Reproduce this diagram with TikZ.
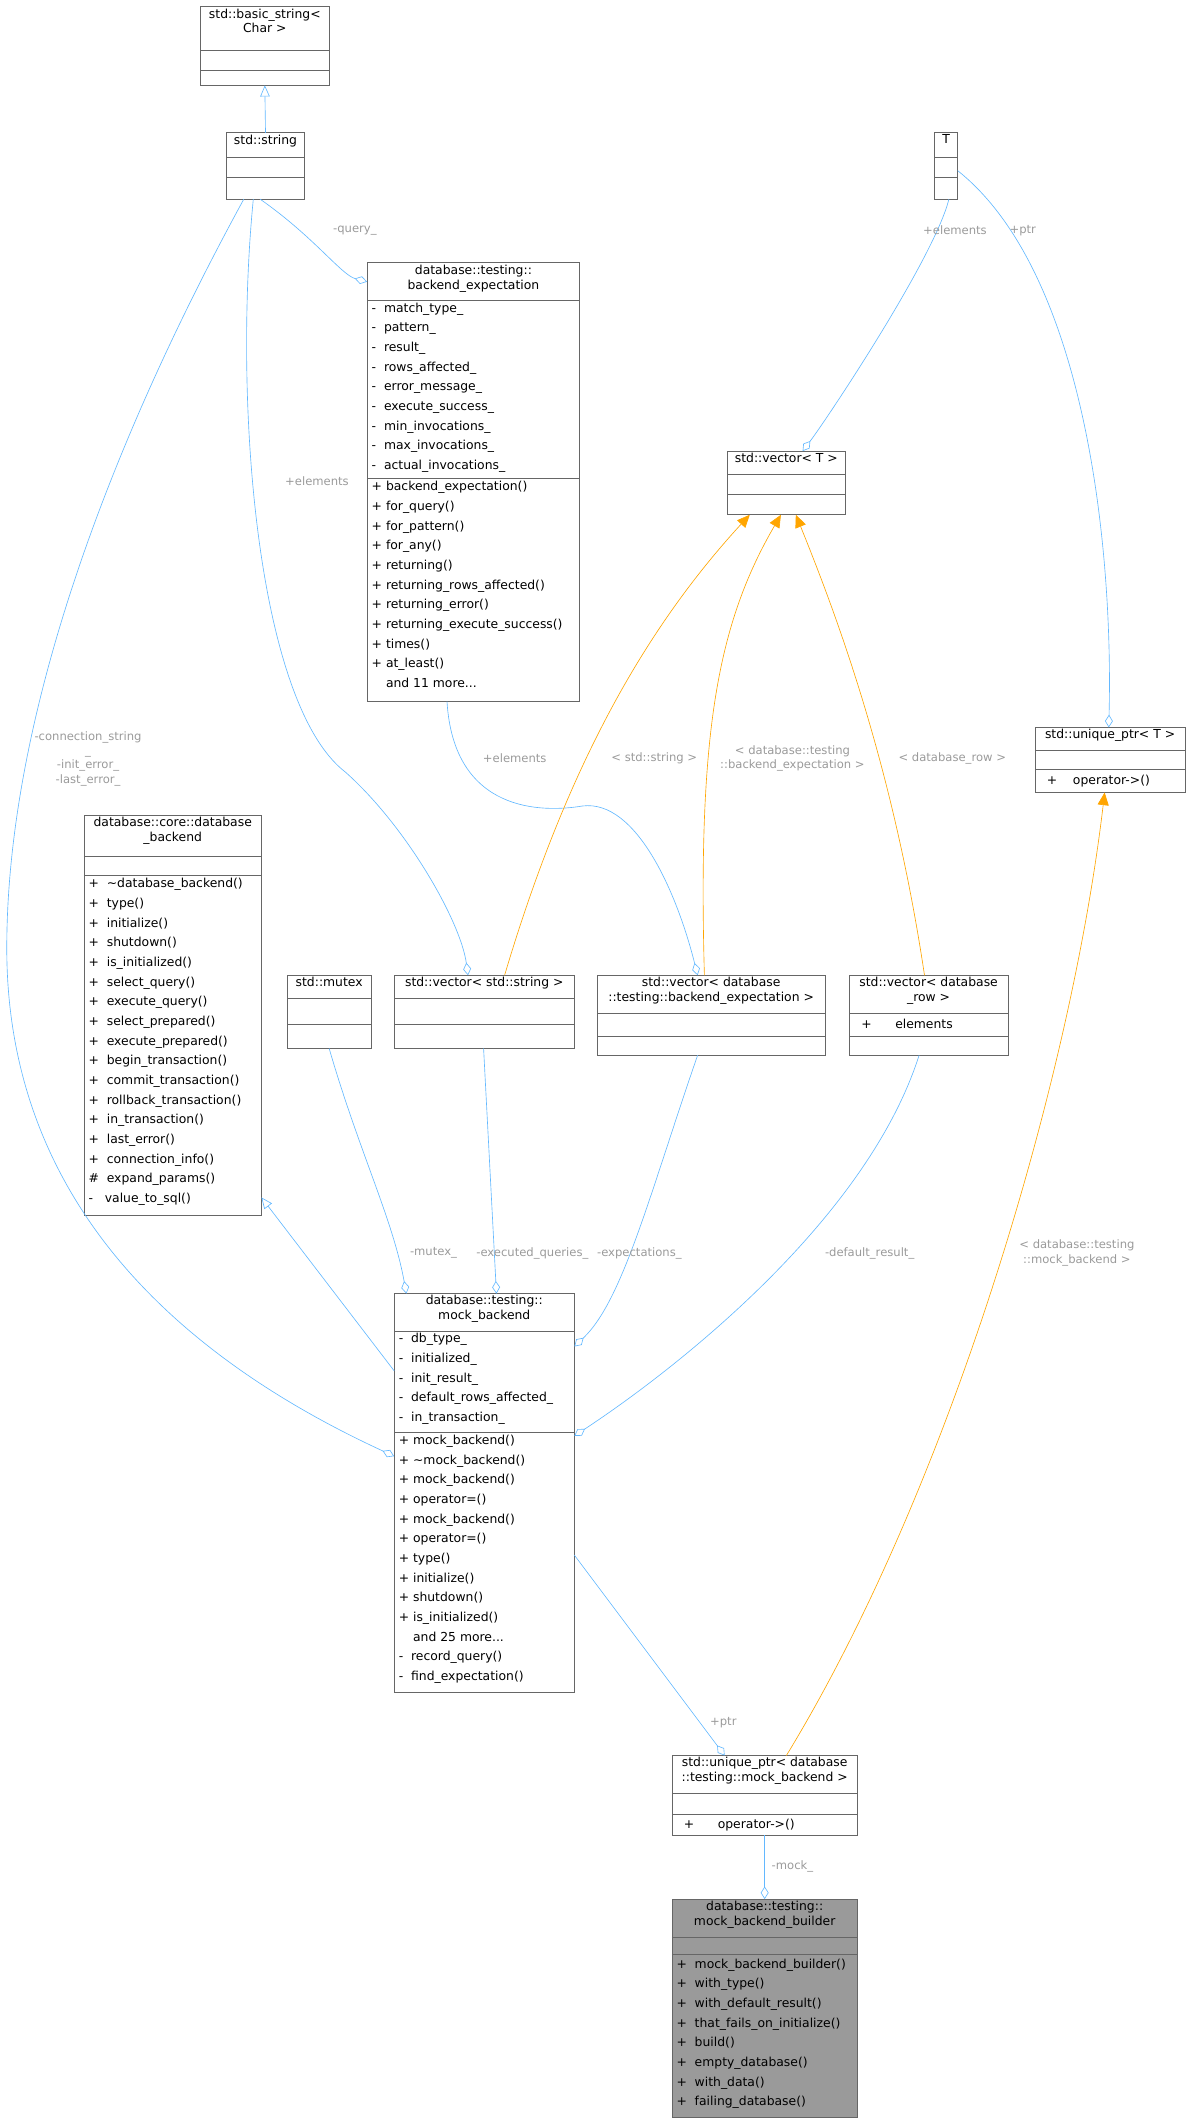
\documentclass[tikz,border=0pt]{standalone}
\usepackage{fontspec}
\setmainfont{DejaVu Sans}
\usetikzlibrary{arrows.meta,calc}
\definecolor{edgeblue}{HTML}{63B8FF}
\definecolor{edgeorange}{HTML}{FFA500}
\definecolor{lblgray}{HTML}{9A9A9A}
\definecolor{boxline}{HTML}{666666}
\tikzset{
  cls/.style={draw=boxline, fill=white, inner sep=0pt, outer sep=0pt, anchor=north west},
  ttl/.style={inner sep=1pt, align=center, anchor=north, font=\fontsize{7.8}{9.4}\selectfont},
  body/.style={inner sep=1pt, align=left, anchor=north west, font=\fontsize{7.8}{12.4}\selectfont},
  lbl/.style={text=lblgray, inner sep=1pt, align=center, font=\fontsize{7.3}{9}\selectfont},
  agg/.style={draw=edgeblue, -{Diamond[open, length=8pt, width=5pt]}},
  inh/.style={draw=edgeblue, -{Triangle[open, length=7pt, width=6pt]}},
  tpl/.style={draw=edgeorange, -{Triangle[length=8pt, width=7pt]}}
}
% name, x, y, w, h, sep1, sep2 (fill as option)
\newcommand{\classbox}[8][white]{%
  \node[cls, fill=#1, minimum width=#5*0.03cm, minimum height=#6*0.03cm] (#2) at (#3,#4) {};
  \draw[boxline] ($(#2.north west)+(0,#7)$) -- ++(#5,0);
  \draw[boxline] ($(#2.north west)+(0,#8)$) -- ++(#5,0);
}
\begin{document}
\begin{tikzpicture}[x=0.03cm, y=-0.03cm]
\useasboundingbox (0,0) rectangle (879,1568);

% classes
\classbox{bs}{148}{5}{95}{58}{32}{47}
\node[ttl] (bst) at (bs.north) {std::basic\_string<\\Char >};
\classbox{str}{167}{98}{58}{49}{18}{33}
\node[ttl] (strt) at (str.north) {std::string};
\classbox{T}{690}{98}{17}{49}{18}{33}
\node[ttl] (Tt) at (T.north) {T};
\classbox{be}{271}{194}{157}{324}{28}{159}
\node[ttl] (bet) at (be.north) {database::testing::\\backend\_expectation};
\node[body] (bea) at ($(be.north west)+(2,28)$) {-~~match\_type\_\\-~~pattern\_\\-~~result\_\\-~~rows\_affected\_\\-~~error\_message\_\\-~~execute\_success\_\\-~~min\_invocations\_\\-~~max\_invocations\_\\-~~actual\_invocations\_};
\node[body] (bem) at ($(be.north west)+(2,160)$) {+~backend\_expectation()\\+~for\_query()\\+~for\_pattern()\\+~for\_any()\\+~returning()\\+~returning\_rows\_affected()\\+~returning\_error()\\+~returning\_execute\_success()\\+~times()\\+~at\_least()\\\phantom{+~}and 11 more...};
\classbox{vt}{537}{333}{87}{47}{17}{32}
\node[ttl] (vtt) at (vt.north) {std::vector< T >};
\classbox{upt}{764}{537}{111}{48}{17}{31}
\node[ttl] (uptt) at (upt.north) {std::unique\_ptr< T >};
\node[body, anchor=west] (uptm) at ($(upt.north west)+(2,39.5)$) {\phantom{x}+~~~~operator->()};
\classbox{db}{62}{602}{131}{295}{30}{44}
\node[ttl] (dbt) at (db.north) {database::core::database\\\_backend};
\node[body] (dbm) at ($(db.north west)+(2,45)$) {+~~\textasciitilde database\_backend()\\+~~type()\\+~~initialize()\\+~~shutdown()\\+~~is\_initialized()\\+~~select\_query()\\+~~execute\_query()\\+~~select\_prepared()\\+~~execute\_prepared()\\+~~begin\_transaction()\\+~~commit\_transaction()\\+~~rollback\_transaction()\\+~~in\_transaction()\\+~~last\_error()\\+~~connection\_info()\\\#~~expand\_params()\\-~~~value\_to\_sql()};
\classbox{mx}{212}{720}{62}{54}{17}{36}
\node[ttl] (mxt) at (mx.north) {std::mutex};
\classbox{vs}{291}{720}{133}{54}{17}{36}
\node[ttl] (vst) at (vs.north) {std::vector< std::string >};
\classbox{ve}{441}{720}{168}{59}{28}{45}
\node[ttl] (vet) at (ve.north) {std::vector< database\\::testing::backend\_expectation >};
\classbox{vr}{627}{720}{117}{59}{28}{45}
\node[ttl] (vrt) at (vr.north) {std::vector< database\\\_row >};
\node[body, anchor=west] (vra) at ($(vr.north west)+(2,36)$) {\phantom{x}+~~~~~~elements};
\classbox{mb}{291}{955}{133}{294}{28}{102}
\node[ttl] (mbt) at (mb.north) {database::testing::\\mock\_backend};
\node[body] (mba) at ($(mb.north west)+(2,28)$) {-~~db\_type\_\\-~~initialized\_\\-~~init\_result\_\\-~~default\_rows\_affected\_\\-~~in\_transaction\_};
\node[body] (mbm) at ($(mb.north west)+(2,103)$) {+~mock\_backend()\\+~\textasciitilde mock\_backend()\\+~mock\_backend()\\+~operator=()\\+~mock\_backend()\\+~operator=()\\+~type()\\+~initialize()\\+~shutdown()\\+~is\_initialized()\\\phantom{+~}and 25 more...\\-~~record\_query()\\-~~find\_expectation()};
\classbox{upm}{496}{1296}{137}{59}{28}{43}
\node[ttl] (upmt) at (upm.north) {std::unique\_ptr< database\\::testing::mock\_backend >};
\node[body, anchor=west] (upmm) at ($(upm.north west)+(2,51)$) {\phantom{x}+~~~~~~operator->()};
\classbox[lblgray]{bld}{496}{1402}{137}{161}{28}{41}
\node[ttl] (bldt) at (bld.north) {database::testing::\\mock\_backend\_builder};
\node[body] (bldm) at ($(bld.north west)+(2,42.5)$) {+~~mock\_backend\_builder()\\+~~with\_type()\\+~~with\_default\_result()\\+~~that\_fails\_on\_initialize()\\+~~build()\\+~~empty\_database()\\+~~with\_data()\\+~~failing\_database()};

% inheritance
\draw[inh] (str.north) -- (bs.south);
\draw[inh] ($(mb.north west)+(0,57)$) -- ($(db.south east)+(0,-13)$);

% members
\draw[agg] ($(str.south)+(-4,0)$) .. controls (232,175) and (252,203) .. ($(be.north west)+(0,14)$);
\draw[agg] ($(str.south)+(-9,0)$) .. controls (172,300) and (190,520) .. (255,570) .. controls (300,610) and (340,680) .. ($(vs.north)+(-12,0)$);
\draw[agg] ($(str.south)+(-16,0)$) .. controls (80,330) and (5,530) .. (5,700) .. controls (5,900) and (150,1010) .. ($(mb.north west)+(0,120)$);
\draw[agg] ($(T.south)+(2,0)$) .. controls (690,190) and (610,310) .. ($(vt.north)+(12,0)$);
\draw[agg] ($(T.north east)+(0,28)$) .. controls (800,200) and (822,400) .. ($(upt.north)+(-1,0)$);
\draw[agg] ($(be.south west)+(59,0)$) .. controls (335,600) and (400,600) .. (430,595) .. controls (470,590) and (500,660) .. ($(ve.north)+(-10,0)$);
\draw[agg] (mx.south) .. controls (265,850) and (290,900) .. ($(mb.north west)+(9,0)$);
\draw[agg] ($(vs.south)+(-0.5,0)$) -- ($(mb.north)+(9,0)$);
\draw[agg] ($(ve.south)+(-10,0)$) .. controls (480,880) and (460,960) .. ($(mb.north east)+(0,39)$);
\draw[agg] ($(vr.south)+(-7,0)$) .. controls (640,900) and (500,1010) .. ($(mb.north east)+(0,105)$);
\draw[agg] ($(mb.north east)+(0,193)$) -- ($(upm.north west)+(39,0)$);
\draw[agg] ($(upm.south)+(0,0)$) -- (bld.north);

% templates
\draw[tpl] ($(vs.north)+(15,0)$) .. controls (420,560) and (480,460) .. ($(vt.south)+(-27,0)$);
\draw[tpl] ($(ve.north)+(-5,0)$) .. controls (515,540) and (530,460) .. ($(vt.south)+(-4,0)$);
\draw[tpl] ($(vr.north)+(-3,0)$) .. controls (660,570) and (620,460) .. ($(vt.south)+(7,0)$);
\draw[tpl] ($(upm.north)+(16,0)$) .. controls (700,1100) and (790,800) .. ($(upt.south)+(-4,0)$);

% labels
\node[lbl] (l1) at (262,170) {-query\_};
\node[lbl] (l2) at (234,355) {+elements};
\node[lbl] (l3) at (65,560) {-connection\_string\\\_\\-init\_error\_\\-last\_error\_};
\node[lbl] (l4) at (705,170) {+elements};
\node[lbl] (l5) at (755,170) {+ptr};
\node[lbl] (l6) at (380,560) {+elements};
\node[lbl] (l7) at (483,560) {< std::string >};
\node[lbl] (l8) at (585,560) {< database::testing\\::backend\_expectation >};
\node[lbl] (l9) at (703,560) {< database\_row >};
\node[lbl] (l10) at (320,925) {-mutex\_};
\node[lbl] (l11) at (393,925) {-executed\_queries\_};
\node[lbl] (l12) at (472,925) {-expectations\_};
\node[lbl] (l13) at (642,925) {-default\_result\_};
\node[lbl] (l14) at (795,925) {< database::testing\\::mock\_backend >};
\node[lbl] (l15) at (534,1272) {+ptr};
\node[lbl] (l16) at (585,1378) {-mock\_};
\end{tikzpicture}
\end{document}
